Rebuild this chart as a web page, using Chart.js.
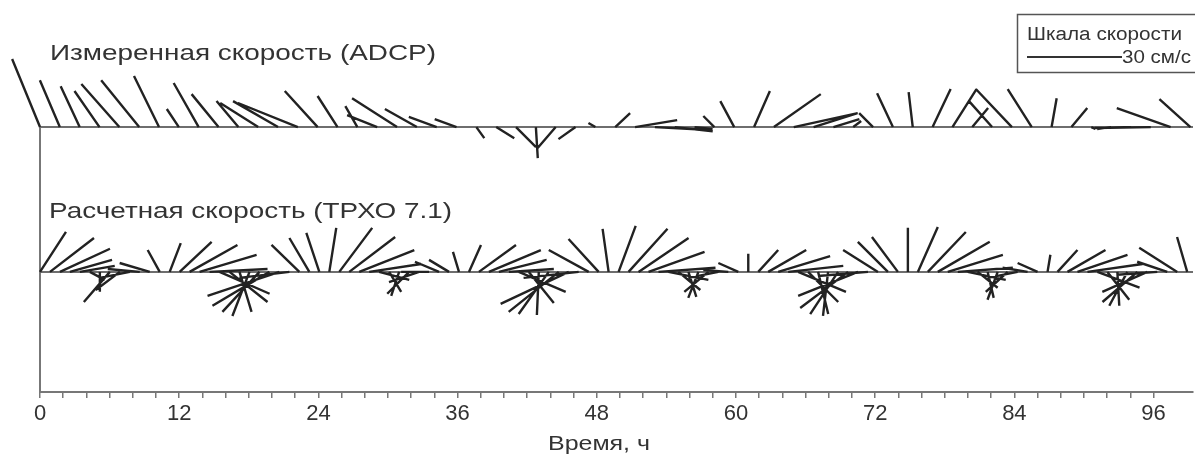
<!DOCTYPE html>
<html>
<head>
<meta charset="utf-8">
<script src="https://cdn.jsdelivr.net/npm/chart.js@4/dist/chart.umd.min.js"></script>
<style>
  html, body { margin: 0; padding: 0; background: #fff; }
  #wrap { position: relative; width: 1195px; height: 457px; }
</style>
</head>
<body>
<div id="wrap"><canvas id="stickChart" width="1195" height="457"></canvas></div>
<script>
// Measured velocity (ADCP), one stick every ~1.71 h, components in cm/s (east, north)
const measStep = 1.71;
const measU = [
  -8.8, -6.3, -6.0, -7.9, -12.0, -12.0, -7.9, -3.8, -7.9, -8.5,
  -6.9, -12.0, -14.2, -18.9, -10.4, -6.3, -3.8, -9.5, -14.2, -10.1,
  -8.8, -6.9, 2.5, 5.7, 6.3, 0.6, -5.7, -5.4, -2.2, 4.7,
  13.3, 17.4, 12.0, 5.7, -3.5, -4.4, 5.0, 14.8, 20.2, 13.9,
  8.2, 2.5, -4.4, -5.0, -1.3, 5.7, 7.6, 5.0, -7.3, -11.4,
  -7.6, 1.6, 5.0, 1.3, -4.4, -10.4, -17.7, -17.0, -9.8
];
const measV = [
  21.5, 14.8, 12.9, 11.4, 13.6, 14.8, 16.1, 5.7, 13.9, 10.4,
  8.2, 7.6, 8.2, 7.6, 11.4, 9.8, 6.6, 3.8, 9.1, 5.7,
  3.2, 2.5, -3.5, -3.5, -6.3, -9.8, -6.6, -3.8, 1.3, 4.4,
  2.2, -0.9, -1.3, -0.6, 3.5, 8.2, 11.4, 10.4, 4.4, 4.4,
  2.5, 1.9, 4.4, 10.7, 11.0, 12.0, 12.0, 6.0, 8.2, 12.0,
  12.0, 9.1, 6.0, -0.6, -0.6, -0.3, -0.3, 6.0, 8.8
];

// Computed velocity (TRKhO 7.1), one stick every ~0.86 h
const calcStep = 0.86;
const calcU = [
  8.2, 13.9, 15.8, 13.3, 11.0, 4.7, 0.0, -8.2, -7.6, -9.5,
  -10.1, -9.5, -3.8, 3.5, 10.1, 15.1, 18.0, 18.3, 15.8, 12.0,
  3.8, -5.4, -11.7, -18.0, -22.7, -15.8, -8.8, -6.3, -4.1, 2.2,
  10.4, 14.5, 17.4, 16.4, 9.5, 3.8, -2.5, -6.9, -9.5, -8.8,
  -7.6, -6.3, -1.9, 3.8, 11.7, 16.4, 15.1, 14.2, 14.8, 7.9,
  -0.6, -9.5, -15.8, -21.5, -17.4, -12.6, -9.5, -1.9, 5.4, 12.3,
  15.8, 17.7, 18.0, 12.6, 6.9, 2.5, -3.2, -7.6, -9.5, -7.9,
  -6.3, 0.0, 6.3, 12.0, 16.4, 17.4, 15.1, 9.5, 3.2, -1.6,
  -8.8, -15.1, -18.9, -15.8, -11.0, -9.5, -8.2, 0.0, 6.3, 12.0,
  16.4, 17.4, 17.4, 12.0, 6.3, 1.9, -3.2, -6.9, -9.5, -7.9,
  -6.3, 0.9, 6.3, 12.0, 15.8, 17.4, 13.3, 6.9, 0.6, -5.7,
  -11.0, -14.2, -12.6, -9.5, -12.0, -3.2
];
const calcV = [
  12.6, 10.7, 7.3, 3.8, 1.9, -2.5, -6.3, -9.5, -5.7, -1.9,
  0.9, 2.8, 6.9, 9.1, 9.5, 8.5, 5.4, 0.9, -6.9, -9.5,
  -12.6, -13.9, -12.6, -10.7, -7.6, -1.9, 8.5, 10.7, 12.3, 13.9,
  13.9, 11.0, 6.9, 2.5, -2.5, -6.3, -7.6, -6.9, -3.2, 0.0,
  3.2, 3.8, 6.3, 8.5, 8.5, 6.9, 3.8, 0.9, -6.3, -9.8,
  -13.6, -13.3, -12.6, -10.1, -1.9, 6.9, 10.4, 13.6, 14.5, 13.6,
  10.7, 6.3, 1.3, -2.5, -5.7, -7.9, -8.2, -6.3, -1.9, 0.6,
  2.8, 5.7, 6.9, 6.9, 5.0, 1.9, -6.3, -9.5, -13.3, -13.9,
  -13.3, -11.4, -7.6, -1.3, 6.9, 9.5, 11.0, 13.9, 14.2, 12.6,
  9.5, 5.4, 1.3, -2.5, -5.0, -8.2, -8.8, -6.3, -1.9, 1.3,
  2.8, 5.4, 6.9, 6.9, 5.4, 2.5, -5.0, -8.8, -10.7, -10.7,
  -9.5, -6.3, -0.9, 3.2, 7.6, 11.0
];

const tickLabels = [0, 12, 24, 36, 48, 60, 72, 84, 96];
const scaleBarSpeed = 30; // cm/s

const hourMax = 99.4;
const speedMax = 123.7;     // y axis in cm/s, 0 at the time axis
const measBase = 83.6;      // baseline of the ADCP row
const calcBase = 37.9;      // baseline of the model row
const hoursPerCm = 0.273;   // 1 cm/s along x takes the same pixels as 1 cm/s along y

const fontFam = '"Liberation Sans", Arial, Helvetica, sans-serif';

function sticks(step, us, vs, base) {
    const pts = [];
    us.forEach((u, i) => {
        const t = i * step;
        pts.push({ x: t, y: base });
        pts.push({ x: t + u * hoursPerCm, y: base + vs[i] });
        pts.push({ x: t, y: null });
    });
    return pts;
}

// text squeezed / stretched to the width it has in the figure
function fitText(ctx, txt, x, y, size, width) {
    ctx.save();
    ctx.font = size + 'px ' + fontFam;
    const w = ctx.measureText(txt).width;
    ctx.translate(x, y);
    ctx.scale(width / w, 1);
    ctx.fillText(txt, 0, 0);
    ctx.restore();
}

const labelsPlugin = {
    id: 'stickLabels',
    afterDraw(chart) {
        const ctx = chart.ctx;
        const xs = chart.scales.x;
        ctx.save();
        ctx.fillStyle = '#333';
        ctx.textBaseline = 'alphabetic';
        ctx.textAlign = 'left';
        fitText(ctx, 'Измеренная скорость (ADCP)', 50, 60, 22, 386);
        fitText(ctx, 'Расчетная скорость (ТРХО 7.1)', 49, 218, 22, 403);
        fitText(ctx, 'Время, ч', 548, 450, 21, 102);

        // speed scale box
        ctx.strokeStyle = '#555';
        ctx.lineWidth = 1.5;
        ctx.strokeRect(1017.5, 14.5, 180, 58);
        fitText(ctx, 'Шкала скорости', 1027, 40, 18, 155);
        const barLen = xs.getPixelForValue(scaleBarSpeed * hoursPerCm) - xs.getPixelForValue(0);
        ctx.strokeStyle = '#333';
        ctx.lineWidth = 2;
        ctx.beginPath();
        ctx.moveTo(1027, 57);
        ctx.lineTo(1027 + barLen, 57);
        ctx.stroke();
        fitText(ctx, '30 см/с', 1027 + barLen, 63, 18, 69);
        ctx.restore();
    }
};

const ctx = document.getElementById('stickChart').getContext('2d');

const stickChart = new Chart(ctx, {
    type: 'line',
    data: {
        datasets: [
            {
                label: 'ADCP',
                data: sticks(measStep, measU, measV, measBase),
                borderColor: '#222',
                borderWidth: 2.4,
                pointRadius: 0,
                spanGaps: false,
                tension: 0,
                clip: false
            },
            {
                label: 'TRKhO',
                data: sticks(calcStep, calcU, calcV, calcBase),
                borderColor: '#222',
                borderWidth: 2.4,
                pointRadius: 0,
                spanGaps: false,
                tension: 0,
                clip: false
            },
            {
                label: 'baseline ADCP',
                data: [{ x: 0, y: measBase }, { x: hourMax, y: measBase }],
                borderColor: '#6e6e6e',
                borderWidth: 2,
                pointRadius: 0,
                clip: false
            },
            {
                label: 'baseline model',
                data: [{ x: 0, y: calcBase }, { x: hourMax, y: calcBase }],
                borderColor: '#6e6e6e',
                borderWidth: 2,
                pointRadius: 0,
                clip: false
            },
            {
                label: 'left axis',
                data: [{ x: 0, y: measBase }, { x: 0, y: 0 }],
                borderColor: '#777',
                borderWidth: 2,
                pointRadius: 0,
                clip: false
            }
        ]
    },
    options: {
        responsive: false,
        animation: false,
        layout: { padding: { left: 40, right: 2, top: 0, bottom: 0 } },
        plugins: {
            legend: { display: false },
            tooltip: { enabled: false }
        },
        scales: {
            x: {
                type: 'linear',
                min: 0,
                max: hourMax,
                afterBuildTicks: (s) => {
                    s.ticks = s.ticks.filter(t => Math.abs(t.value / 2 - Math.round(t.value / 2)) < 1e-6);
                },
                afterFit: (s) => { s.height = 65; },
                ticks: {
                    stepSize: 2,
                    autoSkip: false,
                    maxRotation: 0,
                    padding: 3,
                    color: '#333',
                    font: { family: fontFam, size: 22 },
                    callback: (v) => tickLabels.includes(v) ? String(v) : ''
                },
                grid: {
                    drawOnChartArea: false,
                    drawTicks: true,
                    tickLength: 6,
                    color: '#777',
                    lineWidth: 1.5
                },
                border: { display: true, color: '#777', width: 2 }
            },
            y: {
                display: false,
                min: 0,
                max: speedMax
            }
        }
    },
    plugins: [labelsPlugin]
});
</script>
</body>
</html>
